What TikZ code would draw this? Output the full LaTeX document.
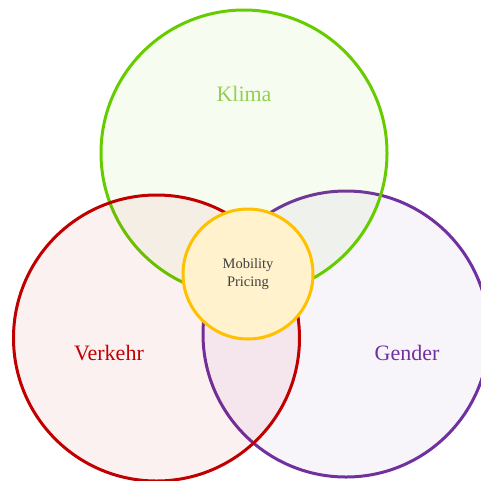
\documentclass[tikz,border=0pt]{standalone}
\usepackage{fontspec}
\setmainfont{Liberation Serif}
\definecolor{klimaline}{HTML}{66CC00}
\definecolor{klimatext}{HTML}{92D050}
\definecolor{verkehrline}{HTML}{C00000}
\definecolor{genderline}{HTML}{7030A0}
\definecolor{coreline}{HTML}{FFC000}
\definecolor{corefill}{HTML}{FFF2CC}
\definecolor{coretext}{HTML}{404040}
\begin{document}
\begin{tikzpicture}[x=1pt,y=-1pt,
  setcircle/.style={circle, draw=#1, fill=#1, fill opacity=0.055, draw opacity=1,
    text opacity=1, line width=3pt, minimum size=286pt, inner sep=0pt},
  corecircle/.style={circle, draw=coreline, fill=corefill, line width=3pt,
    minimum size=130pt, inner sep=0pt, align=center, font=\fontsize{14.5}{18}\selectfont,
    text=coretext},
  label/.style={font=\fontsize{22}{26}\selectfont}]
  \useasboundingbox (0,0) rectangle (481,480);
  \begin{scope}
    \clip (0,0) rectangle (481,480);
    % the three sets, back to front
    \node[setcircle=genderline] (gender) at (346,334) {};
    \node[setcircle=klimaline] (klima) at (244,153) {};
    \node[setcircle=verkehrline] (verkehr) at (156.5,338) {};
    % shared core
    \node[corecircle] (core) at (248,274) {Mobility\\Pricing};
  \end{scope}
  \node[label, text=klimatext] (klimalabel) at (244,94) {Klima};
  \node[label, text=verkehrline] (verkehrlabel) at (109,353) {Verkehr};
  \node[label, text=genderline] (genderlabel) at (407,353) {Gender};
\end{tikzpicture}
\end{document}
